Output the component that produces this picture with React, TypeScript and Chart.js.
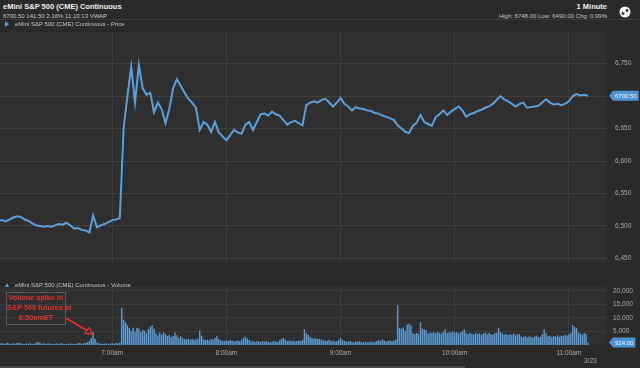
import React, { useEffect, useRef } from "react";
import { Chart, registerables } from "chart.js";

Chart.register(...registerables);

// ---- Data (minutes after 6:00am) ----
const priceStartMinute = 0;
const priceStepMinutes = 2;
const priceValues = [
  6508, 6509, 6507, 6510, 6513, 6515, 6514, 6510, 6508, 6504,
  6501, 6500, 6499, 6500, 6499, 6501, 6503, 6502, 6505, 6501,
  6496, 6497, 6494, 6493, 6490, 6516, 6498, 6501, 6503, 6506,
  6509, 6510, 6512, 6650, 6700, 6745, 6690, 6748, 6712, 6702,
  6705, 6675, 6690, 6680, 6658, 6680, 6712, 6726, 6716, 6705,
  6696, 6690, 6682, 6648, 6660, 6656, 6645, 6660, 6644, 6638,
  6632, 6640, 6648, 6644, 6642, 6656, 6660, 6648, 6660, 6672,
  6673, 6670, 6676, 6672, 6670, 6663, 6656, 6660, 6662, 6658,
  6655, 6686, 6690, 6692, 6690, 6694, 6696, 6690, 6684, 6690,
  6697, 6688, 6684, 6678, 6683, 6681, 6680, 6678, 6677, 6674,
  6673, 6670, 6668, 6666, 6663, 6655, 6650, 6645, 6643, 6654,
  6659, 6671, 6660, 6657, 6654, 6668, 6672, 6678, 6671, 6676,
  6680, 6684, 6678, 6668, 6672, 6674, 6677, 6679, 6682, 6684,
  6688, 6694, 6700, 6695, 6692, 6688, 6684, 6688, 6690, 6682,
  6683, 6684, 6685, 6690, 6695, 6690, 6687, 6688, 6686, 6688,
  6692, 6700, 6703, 6701, 6702, 6700.5,
];

const volumeStartMinute = 0;
const volumeStepMinutes = 1;
const volumeValues = [
  600, 500, 700, 400, 600, 800, 500, 400, 600, 500,
  700, 900, 600, 500, 400, 600, 500, 700, 400, 500,
  800, 1100, 700, 500, 600, 400, 500, 600, 500, 400,
  500, 600, 400, 700, 500, 300, 400, 500, 600, 400,
  500, 400, 600, 800, 500, 600, 700, 1000, 1500, 2600,
  4800, 2200, 900, 600, 500, 400, 500, 600, 400, 500,
  600, 500, 700, 600, 900, 13700, 9200, 8400, 7300, 6300,
  5200, 6400, 4900, 6300, 6100, 4700, 5500, 5300, 4500, 5800,
  6600, 7400, 6000, 4200, 3500, 4600, 3800, 4700, 4100, 3300,
  3700, 2900, 3300, 4700, 3600, 2800, 3200, 2500, 2300, 2100,
  2400, 1900, 2200, 1800, 2000, 2300, 5300, 3400, 2100, 1800,
  2000, 1700, 2200, 1900, 2600, 3200, 2100, 1700, 1600, 1400,
  1700, 1500, 1800, 1600, 1300, 1500, 1700, 1400, 2000, 2600,
  3000, 2400, 1800, 1300, 1500, 1200, 1400, 1300, 1100, 1500,
  1200, 1400, 1300, 1000, 1200, 1500, 1300, 1100, 1800, 2200,
  2600, 1900, 1500, 1700, 1400, 1600, 1300, 1500, 1700, 1400,
  1900, 5800, 4300, 3700, 3000, 2600, 2300, 2500, 2100, 2200,
  1900, 1700, 1600, 1500, 1800, 1400, 1600, 1300, 1500, 1900,
  2600, 1800, 1600, 1300, 1200, 1500, 1100, 1000, 1300, 1200,
  1400, 1100, 1000, 1200, 900, 1100, 1300, 1000, 1200, 1500,
  1800, 1400, 2100, 1600, 1300, 1500, 1700, 1400, 1600, 2000,
  14700, 6300, 6000, 6500, 5300, 7600, 7900, 7200, 4300, 4000,
  4400, 4100, 8400, 6100, 5800, 5400, 4200, 4600, 4400, 4700,
  4300, 4900, 4500, 4200, 4800, 5800, 4400, 4700, 4600, 5000,
  4500, 4800, 4300, 4600, 5200, 5800, 4300, 4100, 4400, 4200,
  3900, 4500, 4100, 4300, 3800, 4200, 4600, 4000, 4400, 4100,
  3800, 4300, 4500, 6300, 4800, 4200, 3900, 4100, 3700, 4000,
  3800, 4200, 3600, 3900, 4100, 3100, 2900, 3300, 2800, 3100,
  3000, 2700, 3200, 3400, 2900, 3100, 4000, 5800, 4300, 3200,
  3500, 2900, 3300, 3100, 3600, 3000, 3400, 3200, 3800, 3500,
  3900, 4400, 7400, 6600, 6300, 4600, 4200, 3800, 4400, 4000,
  924,
];

const priceTicks = [6450, 6500, 6550, 6600, 6650, 6700, 6750];
const volumeTicks = [5000, 10000, 15000, 20000];
const timeTickMinutes = [60, 120, 180, 240, 300];
const timeTickLabels = ["7:00am", "8:00am", "9:00am", "10:00am", "11:00am"];
const lastPriceLabel = "6700.50";
const lastVolumeLabel = "924.00";

// ---- styling ----
const FONT = "'Liberation Sans', Arial, Helvetica, sans-serif";
const BLUE = "#5ba0dc";
const PLOT_BG = "#2f2f2f";
const PAGE_BG = "#2a2a2a";
const H_GRID = "#46403b";
const V_GRID = "#3e3e3e";
const TICK_COLOR = "#a9a9a9";
const X_MIN = 1.05;
const X_MAX = 320;

const plotBgPlugin = {
  id: "plotBg",
  beforeDraw(chart: any) {
    const { ctx, chartArea } = chart;
    ctx.save();
    ctx.fillStyle = PLOT_BG;
    ctx.fillRect(chartArea.left, chartArea.top, chartArea.right - chartArea.left, chartArea.bottom - chartArea.top);
    ctx.restore();
  },
};

function makeTagPlugin(value: number, label: string) {
  return {
    id: "tag",
    afterDraw(chart: any) {
      const { ctx, chartArea } = chart;
      const y = chart.scales.y.getPixelForValue(value);
      const x0 = chartArea.right + 2;
      ctx.save();
      ctx.font = `6px ${FONT}`;
      const w = ctx.measureText(label).width + 4;
      const h = 10;
      ctx.beginPath();
      ctx.moveTo(x0, y);
      ctx.lineTo(x0 + 4, y - h / 2);
      ctx.lineTo(x0 + 4 + w, y - h / 2);
      ctx.lineTo(x0 + 4 + w, y + h / 2);
      ctx.lineTo(x0 + 4, y + h / 2);
      ctx.closePath();
      ctx.fillStyle = "#4b93d4";
      ctx.fill();
      ctx.fillStyle = "#f2f7fc";
      ctx.textBaseline = "middle";
      ctx.textAlign = "left";
      ctx.fillText(label, x0 + 6, y + 0.5);
      ctx.restore();
    },
  };
}

function PriceChart() {
  const ref = useRef<HTMLCanvasElement>(null);
  useEffect(() => {
    const data = priceValues.map((v, i) => ({ x: priceStartMinute + i * priceStepMinutes, y: v }));
    const chart = new Chart(ref.current!, {
      type: "line",
      data: {
        datasets: [
          {
            data,
            borderColor: BLUE,
            borderWidth: 2,
            pointRadius: 0,
            tension: 0,
            fill: false,
          },
        ],
      },
      options: {
        animation: false,
        responsive: false,
        maintainAspectRatio: false,
        layout: { padding: 0 },
        plugins: { legend: { display: false }, tooltip: { enabled: false } },
        scales: {
          x: {
            type: "linear",
            min: X_MIN,
            max: X_MAX,
            grid: { color: V_GRID, drawTicks: false },
            border: { display: false },
            ticks: { display: false },
            afterBuildTicks: (axis: any) => {
              axis.ticks = timeTickMinutes.map((v) => ({ value: v }));
            },
            afterFit: (axis: any) => {
              axis.height = 0;
            },
          },
          y: {
            position: "right",
            min: 6444.4,
            max: 6798.8,
            grid: { color: H_GRID, drawTicks: false },
            border: { display: false },
            ticks: {
              color: TICK_COLOR,
              font: { size: 6.5, family: FONT },
              padding: 8,
              callback: (v: any) => Number(v).toLocaleString("en-US"),
            },
            afterBuildTicks: (axis: any) => {
              axis.ticks = priceTicks.map((v) => ({ value: v }));
            },
            afterFit: (axis: any) => {
              axis.width = 33;
            },
          },
        },
      },
      plugins: [plotBgPlugin, makeTagPlugin(6700.5, lastPriceLabel)],
    } as any);
    return () => chart.destroy();
  }, []);
  return (
    <canvas
      ref={ref}
      width={640}
      height={254}
      style={{ position: "absolute", left: 0, top: 20, width: 640, height: 254 }}
    />
  );
}

function VolumeChart() {
  const ref = useRef<HTMLCanvasElement>(null);
  useEffect(() => {
    const data = volumeValues.map((v, i) => ({ x: volumeStartMinute + i * volumeStepMinutes, y: v }));
    const chart = new Chart(ref.current!, {
      type: "bar",
      data: {
        datasets: [
          {
            data,
            backgroundColor: BLUE,
            borderWidth: 0,
            barPercentage: 1,
            categoryPercentage: 0.72,
          },
        ],
      },
      options: {
        animation: false,
        responsive: false,
        maintainAspectRatio: false,
        layout: { padding: 0 },
        plugins: { legend: { display: false }, tooltip: { enabled: false } },
        scales: {
          x: {
            type: "linear",
            min: X_MIN,
            max: X_MAX,
            offset: false,
            grid: { color: V_GRID, drawTicks: false, offset: false },
            border: { display: false },
            ticks: {
              color: TICK_COLOR,
              font: { size: 6.5, family: FONT },
              padding: 4,
              maxRotation: 0,
              autoSkip: false,
              callback: (_v: any, i: number) => timeTickLabels[i],
            },
            afterBuildTicks: (axis: any) => {
              axis.ticks = timeTickMinutes.map((v) => ({ value: v }));
            },
            afterFit: (axis: any) => {
              axis.height = 23;
            },
          },
          y: {
            position: "right",
            min: 0,
            max: 21800,
            grid: { color: "#3b3b3b", drawTicks: false },
            border: { display: false },
            ticks: {
              color: TICK_COLOR,
              font: { size: 6.5, family: FONT },
              padding: 6,
              callback: (v: any) => Number(v).toLocaleString("en-US"),
            },
            afterBuildTicks: (axis: any) => {
              axis.ticks = volumeTicks.map((v) => ({ value: v }));
            },
            afterFit: (axis: any) => {
              axis.width = 33;
            },
          },
        },
      },
      plugins: [plotBgPlugin, makeTagPlugin(924, lastVolumeLabel)],
    } as any);
    return () => chart.destroy();
  }, []);
  return (
    <canvas
      ref={ref}
      width={640}
      height={92}
      style={{ position: "absolute", left: 0, top: 276, width: 640, height: 92 }}
    />
  );
}

const txt = (extra: React.CSSProperties): React.CSSProperties => ({
  position: "absolute",
  fontFamily: FONT,
  whiteSpace: "nowrap",
  lineHeight: 1,
  ...extra,
});

export default function App() {
  return (
    <div
      style={{
        position: "fixed",
        left: 0,
        top: 0,
        width: 640,
        height: 368,
        background: PAGE_BG,
        overflow: "hidden",
      }}
    >
      <PriceChart />
      <VolumeChart />
      {/* header */}
      <div style={{ position: "absolute", left: 0, top: 19, width: 640, height: 1, background: "#3a3a3a" }} />
      <div style={txt({ left: 3, top: 3, fontSize: 7.5, fontWeight: 700, color: "#f0f0f0" })}>
        eMini S&amp;P 500 (CME) Continuous
      </div>
      <div style={txt({ left: 3, top: 12.5, fontSize: 6, color: "#c8c8c8" })}>
        6700.50 141.50 2.16% 11:10:13 VWAP
      </div>
      <div style={txt({ right: 33, top: 3, fontSize: 7.5, fontWeight: 700, color: "#f0f0f0" })}>1 Minute</div>
      <div style={txt({ right: 33, top: 12.5, fontSize: 6, color: "#c8c8c8" })}>
        High: 6748.00 Low: 6490.00 Chg: 0.99%
      </div>
      <svg width={640} height={368} style={{ position: "absolute", left: 0, top: 0, pointerEvents: "none" }}>
        <circle cx={625} cy={12} r={5.5} fill="#f4f4f4" />
        <circle cx={623} cy={13.5} r={1.4} fill="#333" />
        <circle cx={627} cy={10.5} r={1.4} fill="#333" />
        {/* legend markers */}
        <polygon points="5,21 5,27 9,24" fill={BLUE} />
        <polygon points="5,287 9,287 7,283" fill={BLUE} />
        {/* annotation arrow */}
        <line x1={66} y1={318} x2={87} y2={330.5} stroke="#e0322a" strokeWidth={2} />
        <polygon points="93,334 85.2,333.4 88.8,327.4" fill="none" stroke="#e0322a" strokeWidth={1.3} />
        {/* bottom scrollbar */}
        <rect x={0} y={366} width={465} height={2} fill="#4a4a4a" />
      </svg>
      <div style={txt({ left: 15, top: 21, fontSize: 6, color: "#c8c8c8" })}>
        eMini S&amp;P 500 (CME) Continuous - Price
      </div>
      <div style={txt({ left: 15, top: 282, fontSize: 6, color: "#c8c8c8" })}>
        eMini S&amp;P 500 (CME) Continuous - Volume
      </div>
      {/* annotation box */}
      <div
        style={{
          position: "absolute",
          left: 6,
          top: 292,
          width: 58,
          height: 31,
          border: "1px solid #5a5a5a",
          fontFamily: FONT,
          fontSize: 7.3,
          fontWeight: 700,
          color: "#e3332b",
          textAlign: "center",
          lineHeight: "10px",
          whiteSpace: "nowrap",
        }}
      >
        <div>Volume spike in</div>
        <div>S&amp;P 500 futures at</div>
        <div>6:50amET</div>
      </div>
      <div style={txt({ left: 584, top: 358, fontSize: 6.5, color: TICK_COLOR })}>3/23</div>
    </div>
  );
}
